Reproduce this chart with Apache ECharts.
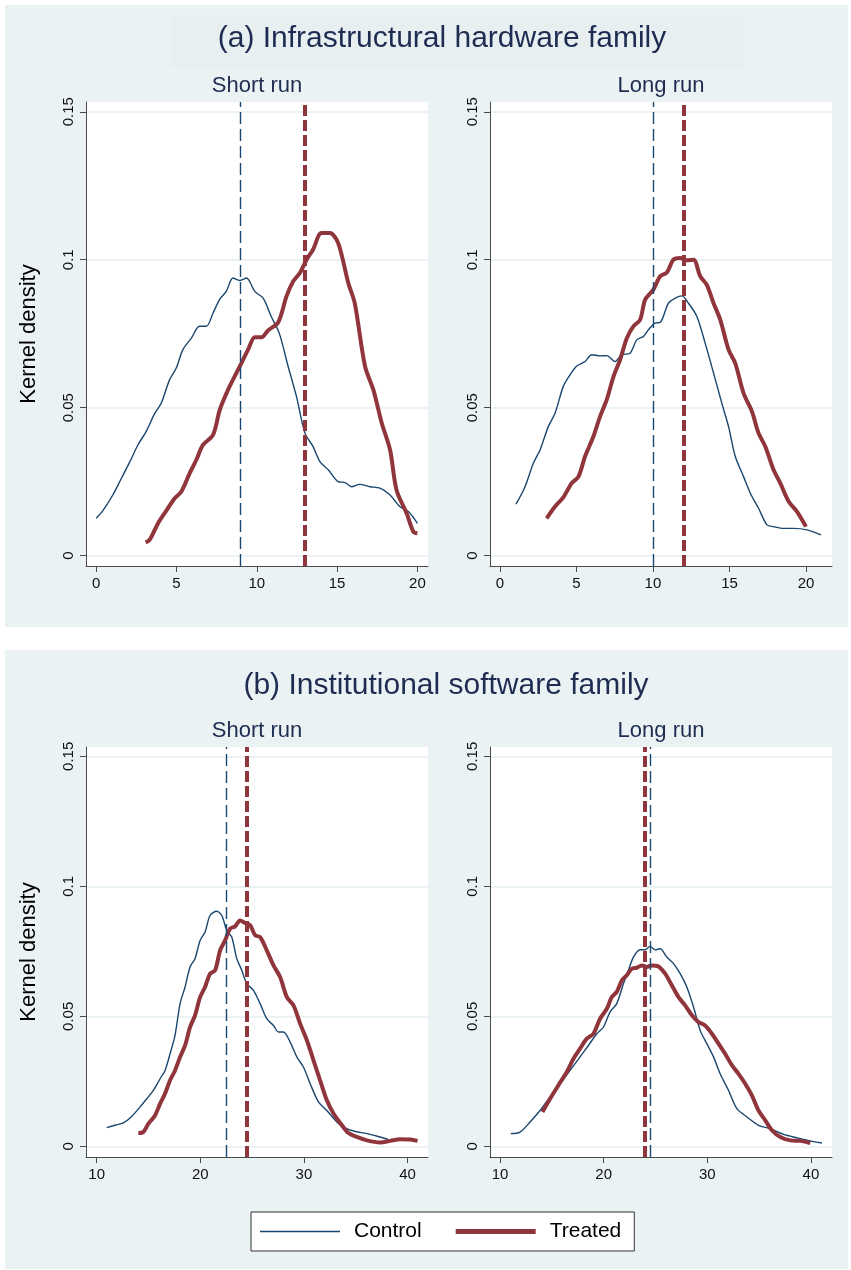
<!DOCTYPE html>
<html><head><meta charset="utf-8">
<script src="https://cdn.jsdelivr.net/npm/echarts@6/dist/echarts.min.js"></script>
<style>html,body{margin:0;padding:0;background:#fff}#c{width:851px;height:1270px}</style>
</head><body><div id="c"></div><script>
// ---------- DATA ----------
const hwShortControl = [[0,0.0126],[0.42,0.0152],[1.04,0.0205],[1.56,0.026],[2.08,0.0315],[2.6,0.0374],[3.12,0.042],[3.64,0.048],[4.05,0.0515],[4.57,0.0594],[4.99,0.0634],[5.4,0.0696],[5.93,0.0735],[6.44,0.0775],[6.86,0.0775],[7.28,0.082],[7.7,0.0867],[8.1,0.0893],[8.52,0.0938],[8.94,0.093],[9.36,0.0938],[9.88,0.0893],[10.4,0.087],[10.9,0.0808],[11.4,0.0752],[11.95,0.064],[12.47,0.0538],[13,0.0414],[13.5,0.0369],[13.93,0.0318],[14.45,0.029],[15.07,0.025],[15.5,0.0247],[15.9,0.0233],[16.4,0.0241],[17.05,0.0233],[17.67,0.0228],[18.3,0.0205],[18.9,0.0166],[19.44,0.0149],[20,0.0109]];
const hwShortTreated = [[3.08,0.0045],[3.33,0.0053],[3.85,0.0109],[4.37,0.0152],[4.89,0.0194],[5.3,0.0216],[5.82,0.0278],[6.24,0.0324],[6.65,0.0374],[7.28,0.0408],[7.7,0.0493],[8.21,0.056],[8.73,0.0617],[9.04,0.065],[9.46,0.0696],[9.88,0.0738],[10.3,0.0738],[10.7,0.0761],[11.33,0.0788],[11.85,0.0876],[12.27,0.0927],[12.68,0.0955],[13.1,0.1],[13.5,0.1034],[14.03,0.109],[14.55,0.109],[15.07,0.1056],[15.7,0.0921],[16.1,0.0853],[16.74,0.064],[17.26,0.056],[17.78,0.0448],[18.3,0.0357],[18.7,0.0222],[19.33,0.0143],[19.75,0.0081],[20,0.0076]];
const hwLongControl = [[1.05,0.0174],[1.64,0.0233],[2.18,0.0312],[2.62,0.0357],[3.16,0.0436],[3.6,0.0481],[4.14,0.0572],[4.58,0.0611],[5.02,0.0641],[5.56,0.0656],[6.0,0.0679],[6.54,0.0675],[6.98,0.0676],[7.52,0.0656],[7.96,0.0679],[8.5,0.0684],[8.94,0.0729],[9.38,0.0741],[9.7,0.0763],[10.14,0.0786],[10.47,0.0788],[11.01,0.0853],[11.45,0.087],[11.89,0.0878],[12.32,0.0853],[12.87,0.0808],[13.41,0.0718],[13.96,0.0617],[14.5,0.0515],[14.94,0.0436],[15.38,0.0335],[15.92,0.0267],[16.36,0.0211],[16.9,0.016],[17.45,0.0104],[17.88,0.0098],[18.54,0.0092],[19.19,0.0092],[20.07,0.0087],[20.98,0.007]];
const hwLongTreated = [[3.05,0.0126],[3.6,0.0166],[4.14,0.0197],[4.69,0.0245],[5.13,0.0267],[5.56,0.0335],[6.1,0.0402],[6.54,0.047],[6.98,0.0527],[7.42,0.0605],[7.85,0.0662],[8.29,0.0735],[8.72,0.0775],[9.16,0.0797],[9.49,0.0865],[10.03,0.0899],[10.47,0.0944],[10.91,0.0957],[11.34,0.1],[11.78,0.1006],[12.21,0.0998],[12.65,0.1],[13.09,0.0944],[13.52,0.0915],[13.96,0.0853],[14.4,0.0797],[14.94,0.0696],[15.38,0.065],[15.92,0.0549],[16.47,0.0487],[16.9,0.0414],[17.34,0.0369],[17.88,0.029],[18.32,0.0245],[18.87,0.0183],[19.41,0.0149],[20,0.0098]];
const swShortControl = [[10.97,0.0072],[11.77,0.0081],[12.57,0.009],[13.38,0.0115],[14.18,0.0151],[14.83,0.0183],[15.47,0.0215],[16.12,0.026],[16.6,0.0292],[17.08,0.0356],[17.56,0.0427],[18.05,0.0549],[18.53,0.0613],[19.01,0.069],[19.49,0.0722],[19.98,0.0792],[20.46,0.0824],[20.94,0.0888],[21.59,0.0904],[22.07,0.0888],[22.55,0.0831],[23.03,0.0805],[23.52,0.0722],[24.0,0.0677],[24.48,0.0626],[25.13,0.06],[25.77,0.0549],[26.41,0.0491],[27.06,0.0465],[27.54,0.044],[28.02,0.044],[28.67,0.0401],[29.31,0.0344],[29.95,0.0305],[30.6,0.0241],[31.4,0.0171],[32.21,0.0138],[33.17,0.0094],[33.82,0.0074],[34.78,0.0059],[36.07,0.0049],[37.36,0.0036],[38.16,0.0026]];
const swShortTreated = [[14.02,0.0051],[14.5,0.0055],[14.99,0.0087],[15.63,0.0119],[16.12,0.0164],[16.6,0.0203],[17.08,0.0254],[17.56,0.0292],[18.05,0.0344],[18.53,0.0388],[19.01,0.0459],[19.49,0.0504],[19.98,0.0574],[20.46,0.0613],[20.94,0.0664],[21.43,0.0677],[21.91,0.0754],[22.39,0.0792],[22.87,0.0837],[23.36,0.0846],[23.84,0.0869],[24.32,0.0859],[24.81,0.085],[25.29,0.0812],[25.77,0.0805],[26.41,0.0754],[27.06,0.0696],[27.7,0.0651],[28.35,0.0574],[28.99,0.0542],[29.63,0.0472],[30.28,0.0408],[30.92,0.0331],[31.56,0.0254],[32.21,0.0177],[32.85,0.0126],[33.5,0.009],[34.3,0.0051],[35.1,0.0036],[36.07,0.0023],[37.36,0.0015],[38.32,0.0021],[39.29,0.0027],[40.25,0.0026],[40.96,0.0021]];
const swLongControl = [[11.03,0.0049],[11.93,0.0055],[12.9,0.0094],[13.86,0.0138],[14.83,0.019],[15.79,0.0241],[16.76,0.0292],[17.72,0.0344],[18.53,0.0388],[19.33,0.0433],[19.98,0.0459],[20.62,0.0517],[21.26,0.0549],[21.91,0.0626],[22.39,0.0677],[22.87,0.0728],[23.52,0.0756],[24.0,0.0756],[24.48,0.0769],[24.97,0.0756],[25.45,0.076],[26.09,0.0728],[26.74,0.0703],[27.38,0.0664],[28.02,0.0613],[28.67,0.0536],[29.31,0.0446],[29.95,0.0395],[30.6,0.0344],[31.24,0.0279],[32.05,0.0215],[32.85,0.0145],[33.82,0.0113],[34.94,0.0081],[36.07,0.0068],[37.36,0.0046],[38.64,0.0033],[39.93,0.0021],[41.06,0.0013]];
const swLongTreated = [[14.09,0.0132],[14.83,0.0183],[15.63,0.0235],[16.44,0.0286],[17.08,0.0337],[17.72,0.0376],[18.37,0.0414],[19.01,0.0433],[19.65,0.0491],[20.3,0.0529],[20.78,0.0574],[21.26,0.0594],[21.75,0.0638],[22.23,0.0658],[22.71,0.0683],[23.2,0.0687],[23.68,0.0696],[24.16,0.069],[24.64,0.0696],[25.29,0.0692],[25.93,0.0664],[26.58,0.0619],[27.22,0.0574],[27.86,0.0542],[28.51,0.0504],[29.15,0.0478],[29.79,0.0465],[30.44,0.0433],[31.08,0.0395],[31.72,0.0356],[32.37,0.0312],[33.01,0.0279],[33.66,0.0241],[34.3,0.0196],[34.94,0.0138],[35.59,0.01],[36.23,0.0062],[37.04,0.0036],[38.0,0.0023],[38.97,0.0021],[39.93,0.0013]];
// group means [control, treated]
const hwShortMeans = [9, 13];
const hwLongMeans = [10, 12];
const swShortMeans = [22.5, 24.5];
const swLongMeans = [24.5, 24];
const hwTicksX = [0, 5, 10, 15, 20];
const swTicksX = [10, 20, 30, 40];
const densityTicks = [0, 0.05, 0.1, 0.15];
const panelTitles = ['(a) Infrastructural hardware family', '(b) Institutional software family'];
const runTitles = ['Short run', 'Long run'];
const seriesNames = ['Control', 'Treated'];
const yTitle = 'Kernel density';

// ---------- STYLE / LAYOUT ----------
const FONT = '"Liberation Sans", Arial, Helvetica, sans-serif';
const BLUE = '#1a476f', RED = '#90353b', NAVY = '#1e2c52', BG = '#eaf2f3';
const grids = [
  {left: 86, top: 102, width: 342, height: 464},
  {left: 490, top: 102, width: 342, height: 464},
  {left: 86, top: 747, width: 342, height: 410},
  {left: 490, top: 747, width: 342, height: 410}
];
const xRanges = [[-0.63, 20.66], [-0.65, 21.7], [8.97, 41.97], [9.03, 42.03]];
const yRanges = [[-0.0035, 0.1533], [-0.0035, 0.1533], [-0.0041, 0.1536], [-0.0041, 0.1536]];
const panels = [
  {c: hwShortControl, t: hwShortTreated, m: hwShortMeans, ticks: hwTicksX},
  {c: hwLongControl, t: hwLongTreated, m: hwLongMeans, ticks: hwTicksX},
  {c: swShortControl, t: swShortTreated, m: swShortMeans, ticks: swTicksX},
  {c: swLongControl, t: swLongTreated, m: swLongMeans, ticks: swTicksX}
];

const xAxis = [], yAxis = [], series = [];
panels.forEach((p, i) => {
  xAxis.push({
    type: 'value', gridIndex: i, min: xRanges[i][0], max: xRanges[i][1],
    axisLine: {show: true, onZero: false, lineStyle: {color: '#4a4a4a', width: 1}},
    axisTick: {show: true, customValues: p.ticks, length: 6, lineStyle: {color: '#4a4a4a'}},
    axisLabel: {customValues: p.ticks, margin: 10, color: '#111', fontSize: 15, fontFamily: FONT},
    splitLine: {show: false}
  });
  yAxis.push({
    type: 'value', gridIndex: i, min: yRanges[i][0], max: yRanges[i][1],
    name: (i % 2 === 0) ? yTitle : '', nameLocation: 'middle', nameGap: 46,
    nameTextStyle: {color: '#000', fontSize: 22, fontFamily: FONT},
    axisLine: {show: true, onZero: false, lineStyle: {color: '#4a4a4a', width: 1}},
    axisTick: {show: true, customValues: densityTicks, length: 6, lineStyle: {color: '#4a4a4a'}},
    axisLabel: {customValues: densityTicks, rotate: 90, margin: 10, color: '#111', fontSize: 15, fontFamily: FONT},
    splitLine: {show: true, lineStyle: {color: '#e4eef0', width: 1.5}}
  });
  series.push({
    name: seriesNames[0], type: 'line', xAxisIndex: i, yAxisIndex: i, data: p.c,
    showSymbol: false, symbol: 'none', smooth: 0.3, z: 3,
    lineStyle: {color: BLUE, width: 1.4}, itemStyle: {color: BLUE},
    markLine: {silent: true, symbol: 'none', label: {show: false}, animation: false,
      lineStyle: {color: BLUE, width: 1.4, type: [12, 5]}, data: [{xAxis: p.m[0]}]}
  });
  series.push({
    name: seriesNames[1], type: 'line', xAxisIndex: i, yAxisIndex: i, data: p.t,
    showSymbol: false, symbol: 'none', smooth: 0.3, z: 4,
    lineStyle: {color: RED, width: 4}, itemStyle: {color: RED},
    markLine: {silent: true, symbol: 'none', label: {show: false}, animation: false,
      lineStyle: {color: RED, width: 4, type: [11, 4]}, data: [{xAxis: p.m[1]}]}
  });
});

const graphic = [
  {type: 'rect', shape: {x: 5, y: 5, width: 843, height: 622}, style: {fill: BG}, z: -10, silent: true},
  {type: 'rect', shape: {x: 5, y: 650, width: 843, height: 619}, style: {fill: BG}, z: -10, silent: true},
  {type: 'rect', shape: {x: 171, y: 15, width: 574, height: 53}, style: {fill: '#e7eff1'}, z: -9, silent: true},
  {type: 'text', x: 442, y: 39, style: {text: panelTitles[0], fill: NAVY, font: '30px ' + FONT, textAlign: 'center', textVerticalAlign: 'middle'}, z: 5},
  {type: 'text', x: 446, y: 686, style: {text: panelTitles[1], fill: NAVY, font: '30px ' + FONT, textAlign: 'center', textVerticalAlign: 'middle'}, z: 5}
];
grids.forEach((g, i) => {
  graphic.push({type: 'text', x: g.left + g.width / 2, y: g.top - 16,
    style: {text: runTitles[i % 2], fill: NAVY, font: '22px ' + FONT, textAlign: 'center', textVerticalAlign: 'middle'}, z: 5});
});

const chart = echarts.init(document.getElementById('c'), null, {renderer: 'canvas'});
chart.setOption({
  animation: false,
  backgroundColor: '#ffffff',
  grid: grids.map(g => Object.assign({containLabel: false, show: true, backgroundColor: '#fff', borderWidth: 0}, g)),
  xAxis, yAxis, series, graphic,
  legend: {
    data: [
      {name: seriesNames[0], icon: 'path://M0,0 L80,0 L80,1.6 L0,1.6 Z', itemStyle: {color: BLUE}},
      {name: seriesNames[1], icon: 'path://M0,0 L80,0 L80,5 L0,5 Z', itemStyle: {color: RED}}
    ],
    left: 251, top: 1212, orient: 'horizontal', symbolKeepAspect: true,
    itemWidth: 80, itemHeight: 14, itemGap: 34,
    padding: [9, 13, 9, 9],
    backgroundColor: '#fff', borderColor: '#333', borderWidth: 1, borderRadius: 0,
    textStyle: {color: '#000', fontSize: 21, fontFamily: FONT, padding: [0, 0, 0, 9]},
    selectedMode: false
  }
});
</script></body></html>
